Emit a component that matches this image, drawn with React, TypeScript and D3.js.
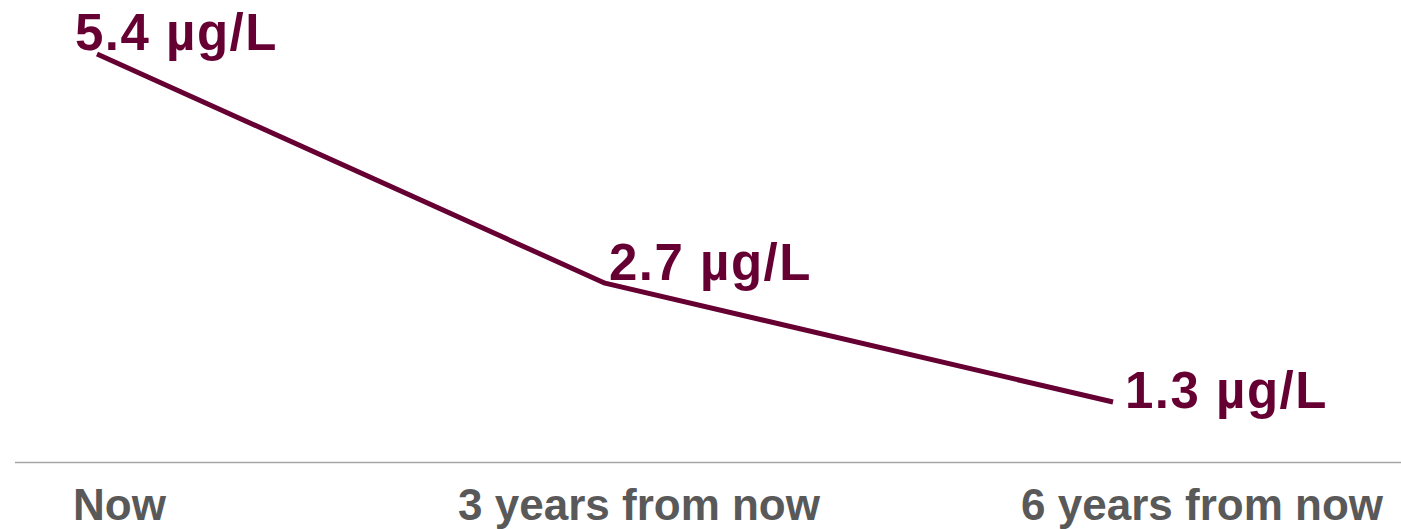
import React from "react";
import * as d3 from "d3";

const categories: string[] = ["Now", "3 years from now", "6 years from now"];
const values: number[] = [5.4, 2.7, 1.3];
const unit = "µg/L";

const W = 1401;
const H = 529;
const LINE_COLOR = "#660033";
const AXIS_TEXT = "#595959";

// label placement rules (style, not data)
const valueLabelOffsets = [
  { dx: -22, dy: -4 },
  { dx: 4, dy: -3 },
  { dx: 12, dy: 6 },
];
const catLabelAnchor: ("start" | "middle" | "end")[] = ["start", "middle", "end"];
const catLabelShift = [-24, 34, 270];

export default function App() {
  const x = d3.scalePoint<string>().domain(categories).range([97, 1113]);
  const y = d3
    .scaleLinear()
    .domain([d3.min(values)!, d3.max(values)!])
    .range([402, 54]);
  const line = d3
    .line<number>()
    .x((_, i) => x(categories[i])!)
    .y((d) => y(d));

  return (
    <div style={{ position: "fixed", left: 0, top: 0 }}>
      <svg width={W} height={H} style={{ display: "block", background: "#fff" }}>
        <line x1={15} x2={W} y1={462.5} y2={462.5} stroke="#a6a6a6" strokeWidth={1.5} />
        <path
          d={line(values) || ""}
          fill="none"
          stroke={LINE_COLOR}
          strokeWidth={5}
          strokeLinejoin="round"
          strokeLinecap="butt"
        />
        {values.map((v, i) => (
          <text
            key={"v" + i}
            x={x(categories[i])! + valueLabelOffsets[i].dx}
            y={y(v) + valueLabelOffsets[i].dy}
            fill={LINE_COLOR}
            fontFamily="'Liberation Sans', Arial, sans-serif"
            fontWeight={700}
            fontSize={51}
            letterSpacing={1.5}
          >
            {`${v.toFixed(1)} ${unit}`}
          </text>
        ))}
        {categories.map((c, i) => (
          <text
            key={"c" + i}
            x={x(c)! + catLabelShift[i]}
            y={520}
            textAnchor={catLabelAnchor[i]}
            fill={AXIS_TEXT}
            fontFamily="'Liberation Sans', Arial, sans-serif"
            fontWeight={700}
            fontSize={44}
          >
            {c}
          </text>
        ))}
      </svg>
    </div>
  );
}
